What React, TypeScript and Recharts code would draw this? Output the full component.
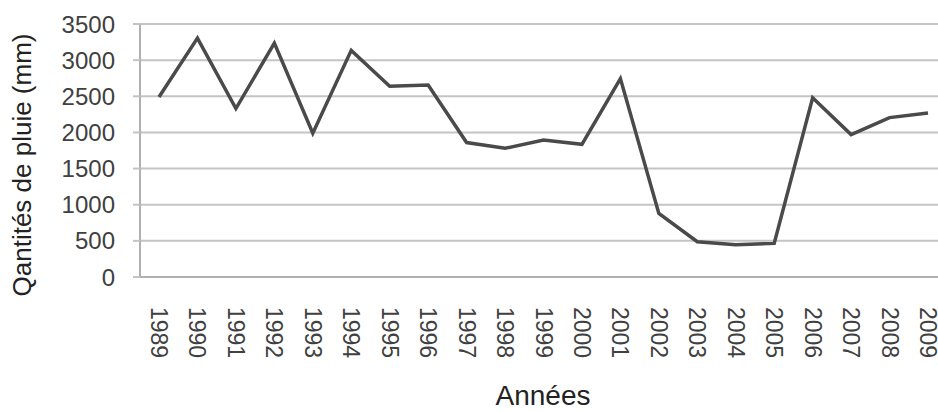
import { LineChart, Line, XAxis, YAxis, CartesianGrid } from "recharts";

const years = [
  "1989", "1990", "1991", "1992", "1993", "1994", "1995", "1996", "1997", "1998",
  "1999", "2000", "2001", "2002", "2003", "2004", "2005", "2006", "2007", "2008", "2009",
];

const rainfall = [
  2490, 3305, 2330, 3235, 1990, 3135, 2640, 2655, 1860, 1780,
  1895, 1835, 2745, 880, 488, 445, 465, 2480, 1970, 2205, 2270,
];

const yTicks = [0, 500, 1000, 1500, 2000, 2500, 3000, 3500];

const data = years.map((year, i) => ({ year, rain: rainfall[i] }));

const font = "'Liberation Sans', Arial, sans-serif";

const XTick = (props: any) => {
  const { x, y, payload } = props;
  return (
    <text
      x={x}
      y={y}
      transform={`rotate(90 ${x} ${y})`}
      textAnchor="start"
      dominantBaseline="central"
      fontSize={23}
      fill="#404040"
      fontFamily={font}
    >
      {payload.value}
    </text>
  );
};

export default function App() {
  return (
    <div
      style={{
        position: "fixed",
        left: 0,
        top: 0,
        width: 938,
        height: 412,
        background: "#fff",
      }}
    >
      <LineChart
        width={938}
        height={412}
        data={data}
        margin={{ top: 24, right: 0, bottom: 0, left: 0 }}
      >
        <CartesianGrid vertical={false} stroke="#c4c4c4" strokeWidth={2} />
        <XAxis
          dataKey="year"
          height={135}
          padding={{ left: 19, right: 10 }}
          tickLine={false}
          axisLine={{ stroke: "#b0b0b0", strokeWidth: 2 }}
          interval={0}
          tick={<XTick />}
          tickMargin={24}
          label={{
            content: () => (
              <text
                x={543}
                y={395}
                textAnchor="middle"
                dominantBaseline="central"
                fontSize={28}
                fill="#222"
                fontFamily={font}
              >
                Années
              </text>
            ),
          }}
        />
        <YAxis
          width={140}
          domain={[0, 3500]}
          ticks={yTicks}
          interval={0}
          tickSize={7}
          tickMargin={18}
          tickLine={{ stroke: "#c4c4c4", strokeWidth: 2 }}
          axisLine={{ stroke: "#b0b0b0", strokeWidth: 2 }}
          tick={{ fontSize: 24, fill: "#404040", fontFamily: font }}
          label={{
            content: () => (
              <text
                x={22}
                y={165}
                transform="rotate(-90 22 165)"
                textAnchor="middle"
                dominantBaseline="central"
                fontSize={26}
                fill="#222"
                fontFamily={font}
              >
                Qantités de pluie (mm)
              </text>
            ),
          }}
        />
        <Line
          type="linear"
          dataKey="rain"
          stroke="#4a4a4a"
          strokeWidth={3.5}
          dot={false}
          isAnimationActive={false}
        />
      </LineChart>
    </div>
  );
}
